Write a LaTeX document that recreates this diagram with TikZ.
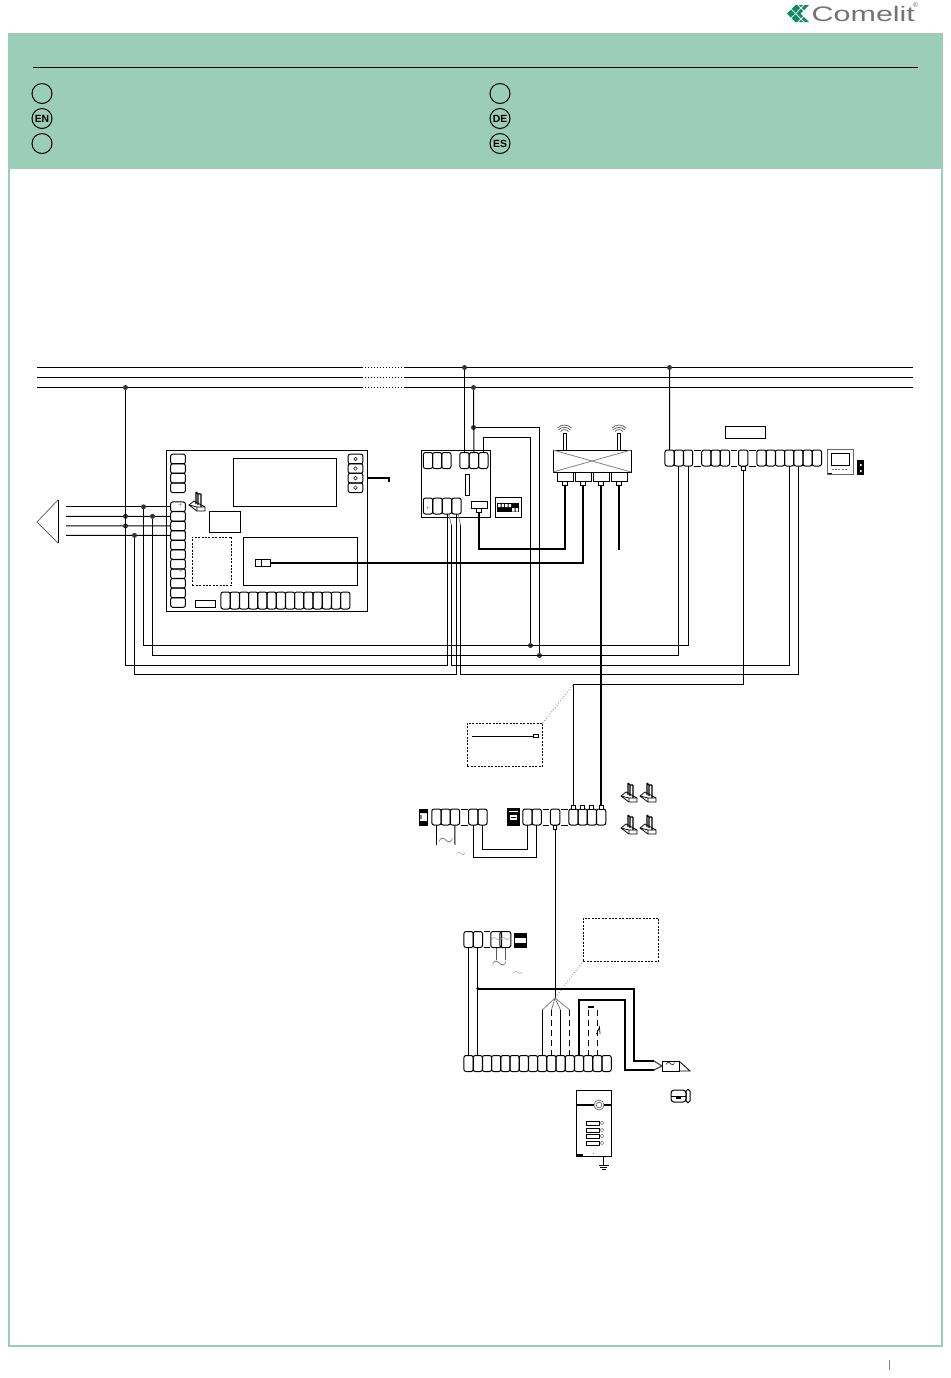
\documentclass[tikz,border=0pt]{standalone}
\usepackage{amsmath}
\usepackage{fontspec}
\setmainfont{Liberation Sans}
\usetikzlibrary{positioning}

\definecolor{bandgreen}{HTML}{9BCDB9}
\definecolor{logogreen}{HTML}{0A8F5C}

\tikzset{
  term/.style = {draw, rectangle, rounded corners = 1.1pt, inner sep = 0pt, outer sep = 0pt,
    minimum width = 4.7pt, minimum height = 8pt},
  termgap/.style = {rectangle, inner sep = 0pt, outer sep = 0pt, minimum width = 3.4pt, minimum height = 8pt,
    append after command = {(\tikzlastnode.north west) edge (\tikzlastnode.north east)
      (\tikzlastnode.south west) edge (\tikzlastnode.south east)}},
  vterm/.style = {draw, rectangle, rounded corners = 1.1pt, inner sep = 0pt, outer sep = 0pt,
    minimum width = 7.4pt, minimum height = 4.9pt},
  tildeterm/.style = {term, text = gray!70, font = \fontsize{5}{5}\selectfont},
  box/.style = {draw, rectangle, inner sep = 0pt, outer sep = 0pt},
  dashbox/.style = {box, dash pattern = on 1pt off 0.7pt},
  plug/.style = {draw, fill = white, rectangle, inner sep = 0pt, outer sep = 0pt, minimum size = 2.4pt},
  dot/.style = {circle, fill = black!80, inner sep = 0pt, outer sep = 0pt, minimum size = 2.5pt},
  hole/.style = {draw, circle, inner sep = 0pt, minimum size = 1.8pt, line width = 0.25pt},
  flag/.style = {draw, circle, inner sep = 0pt, minimum size = 10pt, font = \bfseries\fontsize{5.2}{5.2}\selectfont},
  tilde/.style = {text = gray, inner sep = 0pt, font = \fontsize{10}{10}\selectfont},
  smalltilde/.style = {text = gray!70, inner sep = 0pt, font = \fontsize{4}{4}\selectfont},
  plus/.style = {text = gray, inner sep = 0pt, font = \fontsize{3.5}{3.5}\selectfont},
  wire/.style = {line width = 0.5pt},
  thickwire/.style = {line width = 1pt},
  hint/.style = {gray, line width = 0.4pt, densely dotted},
  clamp/.pic = {
    \draw [line width = 0.4pt] (0,13) -- (5,9) -- (16,15) -- (16,19) -- (8,19) -- cycle;
    \draw [line width = 0.4pt] (0,13) -- (8,15) -- (16,15) (8,15) -- (8,19);
    \draw [line width = 0.6pt] (7,0) -- (7,12) (7,0) -- (9,2) -- (9,13) (12,2) -- (12,15) (9,2) -- (12,2);
  },
  antenna/.pic = {
    \draw [black!60, line width = 0.4pt] (-7,-13) .. controls (-3,-17) and (3,-17) .. (7,-13);
    \draw [black!60, line width = 0.4pt] (-6,-11) .. controls (-3,-14.5) and (3,-14.5) .. (6,-11);
    \draw [black!60, line width = 0.4pt] (-4,-9.5) .. controls (-2,-12) and (2,-12) .. (4,-9.5);
    \draw [line width = 0.4pt] (-1.5,-8) rectangle (1.5,9);
  },
}

\begin{document}
\begin{tikzpicture} [x = 0.5pt, y = -0.5pt, node distance = 4.78pt and 4.6pt, on grid, line width = 0.5pt]

\useasboundingbox (0,0) rectangle (950,1378);

% page
\fill [bandgreen] (8,33.5) rectangle (942,169);
\draw [bandgreen, line width = 0.9pt] (9,34) rectangle (942,1346);
\draw [line width = 0.5pt] (33,67.5) -- (918,67.5);
\draw [gray, line width = 0.4pt] (889.5,1360) -- (889.5,1370);

\node (f1) [flag] at (42,93.5) {};
\node (f2) [flag] at (42,118.5) {EN};
\node (f3) [flag] at (42,143.5) {};
\node (f4) [flag] at (500,93.5) {};
\node (f5) [flag] at (500,118.5) {DE};
\node (f6) [flag] at (500,143.5) {ES};

% logo
\fill [logogreen] (787,13.5) -- (795.5,5) -- (809,5) -- (800.5,13.5) -- (809,22) -- (795.5,22) -- cycle;
\draw [white, line width = 0.4pt] (791.3,9.2) -- (804,22) (791.3,17.8) -- (804,5) (798,5) -- (804.5,11.5) (798,22) -- (804.5,15.5);
\node (logo) [anchor = west, inner sep = 0pt, text = black!55, font = \fontsize{10.5}{10.5}\selectfont,
  xscale = 1.45, transform shape] at (811,13.5) {Comelit};
\node (reg) [text = black!55, inner sep = 0pt, font = \fontsize{3.5}{3.5}\selectfont] at (915.5,5) {®};

% bus
\coordinate (bus1a) at (37,367.5);
\coordinate (bus1b) at (362,367.5);
\coordinate (bus1c) at (405,367.5);
\coordinate (bus1d) at (913,367.5);
\coordinate (bus2a) at (37,377.5);
\coordinate (bus2b) at (362,377.5);
\coordinate (bus2c) at (405,377.5);
\coordinate (bus2d) at (913,377.5);
\coordinate (bus3a) at (37,387.5);
\coordinate (bus3b) at (362,387.5);
\coordinate (bus3c) at (405,387.5);
\coordinate (bus3d) at (913,387.5);
\path [wire]
  (bus1a) edge (bus1b)
  (bus1c) edge (bus1d)
  (bus2a) edge (bus2b)
  (bus2c) edge (bus2d)
  (bus3a) edge (bus3b)
  (bus3c) edge (bus3d);
\path [wire, densely dotted]
  (bus1b) edge (bus1c)
  (bus2b) edge (bus2c)
  (bus3b) edge (bus3c);
\node (j1) [dot] at (464.5,367.5) {};
\node (j2) [dot] at (669.5,367.5) {};
\node (j3) [dot] at (125.5,387.5) {};
\node (j4) [dot] at (473.5,387.5) {};
\node (j5) [dot] at (473.5,427.5) {};

% main board
\node (board) [box, minimum width = 100.5pt, minimum height = 80.5pt] at (266.5,530.5) {};
\node (lcd) [box, minimum width = 51.5pt, minimum height = 24pt] at (284.5,482) {};
\node (chip) [box, minimum width = 15.5pt, minimum height = 10.5pt] at (224.5,521.5) {};
\node (opt) [dashbox, minimum width = 19.7pt, minimum height = 24pt] at (212,561) {};
\node (mod) [box, minimum width = 57pt, minimum height = 24pt] at (300,561) {};
\node (fuse) [box, minimum width = 10pt, minimum height = 3.5pt] at (205,603.5) {};
\node (lan) [box, fill = white, minimum width = 7pt, minimum height = 3.5pt] at (263,563) {};
\node (lanb) [box, fill = white, minimum width = 3pt, minimum height = 3.5pt] at (258.5,563) {};
\pic at (189,492) {clamp};

\node (g0) [vterm] at (178,459) {};
\node (g1) [vterm, below = of g0] {};
\node (g2) [vterm, below = of g1] {};
\node (g3) [vterm, below = of g2] {};

\node (h0) [vterm] at (178,506.8) {};
\node (h1) [vterm, below = of h0] {};
\node (h2) [vterm, below = of h1] {};
\node (h3) [vterm, below = of h2] {};
\node (h4) [vterm, below = of h3] {};
\node (h5) [vterm, below = of h4] {};
\node (h6) [vterm, below = of h5] {};
\node (h7) [vterm, below = of h6] {};
\node (h8) [vterm, below = of h7] {};
\node (h9) [vterm, below = of h8] {};
\node (h10) [vterm, below = of h9] {};
\node (pl1) [plus] at (180.5,505.5) {+};
\node (pl2) [plus] at (181,571.5) {+};

\node (k0) [term, minimum height = 8.5pt] at (225.6,600.5) {};
\node (k1) [term, minimum height = 8.5pt, right = of k0] {};
\node (k2) [term, minimum height = 8.5pt, right = of k1] {};
\node (k3) [term, minimum height = 8.5pt, right = of k2] {};
\node (k4) [term, minimum height = 8.5pt, right = of k3] {};
\node (k5) [term, minimum height = 8.5pt, right = of k4] {};
\node (k6) [term, minimum height = 8.5pt, right = of k5] {};
\node (k7) [term, minimum height = 8.5pt, right = of k6] {};
\node (k8) [term, minimum height = 8.5pt, right = of k7] {};
\node (k9) [term, minimum height = 8.5pt, right = of k8] {};
\node (k10) [term, minimum height = 8.5pt, right = of k9] {};
\node (k11) [term, minimum height = 8.5pt, right = of k10] {};
\node (k12) [term, minimum height = 8.5pt, right = of k11] {};
\node (k13) [term, minimum height = 8.5pt, right = of k12] {};

\node (r0) [vterm] at (355.5,459) {};
\node (r1) [vterm, below = of r0] {};
\node (r2) [vterm, below = of r1] {};
\node (r3) [vterm, below = of r2] {};
\node (r0c) [hole] at (r0) {};
\node (r1c) [hole] at (r1) {};
\node (r2c) [hole] at (r2) {};
\node (r3c) [hole] at (r3) {};

\coordinate (earth) at (389,482);
\draw [thickwire] (board.east |- r2) -| (earth);

% speaker
\node (cone) [inner sep = 0pt] at (50,522) {};
\draw [gray!80!black, line width = 0.4pt] (58,500) -- (37,522) -- (58,543);
\draw [line width = 0.5pt] (58,500) -- (58,543);
\coordinate (spk0) at (66,506.8);
\coordinate (spk1) at (66,516.3);
\coordinate (spk2) at (66,525.9);
\coordinate (spk3) at (66,535.4);
\path [wire]
  (spk0) edge (h0.west)
  (spk1) edge (h1.west)
  (spk2) edge (h2.west)
  (spk3) edge (h3.west);
\node (j6) [dot] at (143.5,506.8) {};
\node (j7) [dot] at (125.5,516.3) {};
\node (j8) [dot] at (152.5,516.3) {};
\node (j9) [dot] at (125.5,525.9) {};
\node (j10) [dot] at (134.5,535.4) {};

% second board
\node (ctrl) [box, minimum width = 34.5pt, minimum height = 33.5pt] at (455.5,483.5) {};
\node (m0) [term] at (428,460.5) {};
\node (m1) [term, right = of m0] {};
\node (m2) [term, right = of m1] {};
\node (n0) [term] at (464.5,460.5) {};
\node (n1) [term, right = 4.7pt of n0] {};
\node (n2) [term, right = 4.7pt of n1] {};
\node (p0) [term] at (428,506) {};
\node (p1) [term, right = 4.75pt of p0] {};
\node (p2) [term, right = 4.75pt of p1] {};
\node (p3) [term, right = 4.75pt of p2] {};
\node (pl3) [plus] at (428,508) {+};
\node (slot) [box, minimum width = 2pt, minimum height = 10.5pt] at (467,484.5) {};
\node (sock) [box, minimum width = 8pt, minimum height = 3.5pt] at (479,504.5) {};
\node (sockp) [plug, below = 3pt of sock] {};

% dip switch
\node (dip) [box, minimum width = 13pt, minimum height = 10pt] at (508,507) {};
\fill [black] (497,503) rectangle (519,512);
\fill [white] (498,504) rectangle (500.5,507) (501.5,504) rectangle (504,507) (505,504) rectangle (507.5,507) (508.5,504) rectangle (511,507);
\fill [white] (512,508) rectangle (514.5,511.5) (515.5,508) rectangle (518,511.5);

% router
\node (rt) [box, minimum width = 39pt, minimum height = 11pt] at (592,461) {};
\draw [gray, line width = 0.4pt] (rt.north west) -- (rt.south east);
\draw [gray, line width = 0.4pt] (rt.south west) -- (rt.north east);
\pic at (564.5,441) {antenna};
\pic at (619,441) {antenna};
\node (rs0) [box, minimum width = 8pt, minimum height = 4.5pt] at (565,476.5) {};
\node (rs1) [box, minimum width = 8pt, minimum height = 4.5pt] at (583,476.5) {};
\node (rs2) [box, minimum width = 8pt, minimum height = 4.5pt] at (601,476.5) {};
\node (rs3) [box, minimum width = 8pt, minimum height = 4.5pt] at (619,476.5) {};
\node (rp0) [plug] at (565,483.5) {};
\node (rp1) [plug] at (583,483.5) {};
\node (rp2) [plug] at (601,483.5) {};
\node (rp3) [plug] at (619,483.5) {};

% top right strip
\node (tag) [box, minimum width = 20pt, minimum height = 6pt] at (745,432) {};
\node (a0) [term] at (669.6,458) {};
\node (a1) [term, right = of a0] {};
\node (a2) [term, right = of a1] {};
\node (a3) [termgap, right = of a2] {};
\node (a4) [term, right = of a3] {};
\node (a5) [term, right = of a4] {};
\node (a6) [term, right = of a5] {};
\node (a7) [termgap, right = of a6] {};
\node (a8) [term, right = of a7] {};
\node (a9) [termgap, right = of a8] {};
\node (a10) [term, right = of a9] {};
\node (a11) [term, right = of a10] {};
\node (a12) [term, right = of a11] {};
\node (a13) [term, right = of a12] {};
\node (a14) [term, right = of a13] {};
\node (a15) [term, right = of a14] {};
\node (a16) [term, right = of a15] {};
\node (a8p) [plug, below = 5.2pt of a8, minimum size = 2pt] {};

% monitor
\node (mon) [box, gray!80!black, minimum width = 13pt, minimum height = 12.5pt] at (840,461.5) {};
\node (scr) [box, minimum width = 9pt, minimum height = 6pt] at (840,459) {};
\draw [gray, line width = 0.8pt, dash pattern = on 1pt off 0.6pt] (832,469.5) -- (848,469.5);
\fill [black] (828,472.5) rectangle (832,474);
\fill [black] (857,460) rectangle (864,475);
\fill [white] (860,464) rectangle (861.5,466) (860,470) rectangle (861.5,472);

% long wires from the top
\coordinate (c1) at (125.5,665.5);
\coordinate (c2) at (143.5,645.5);
\coordinate (c3) at (152.5,655.5);
\coordinate (c4) at (134.5,674.5);
\node (j11) [dot] at (530.5,645.5) {};
\node (j12) [dot] at (539.5,655.5) {};
\coordinate (t1) at (451.5,525);
\coordinate (t2) at (460.5,525);
\coordinate (t3) at (574,684.5);

\draw [wire] (j1) -- (j1 |- n0.north);
\draw [wire] (j3) -- (c1) -- (c1 -| p2) -- (p2.south);
\draw [wire] (j4) -- (n1.north);
\draw [wire] (j2) -- (a0.north);
\draw [wire] (j6) -- (c2) -- (c2 -| a2) -- (a2.south);
\draw [wire] (j8) -- (c3) -- (c3 -| a1) -- (a1.south);
\draw [wire] (j10) -- (c4) -- (c4 -| p3) -- (p3.south);
\draw [wire] (j5) -| (j12);
\draw [wire] (n2.north) |- (483.5,437.5) -| (j11);
\draw [gray, line width = 0.4pt] (448.5,514) -- (t1);
\draw [gray, line width = 0.4pt] (458,514) -- (t2);
\draw [wire] (t1) |- (a13 |- c1) -- (a13.south);
\draw [wire] (t2) |- (a14 |- c4) -- (a14.south);

\draw [thickwire] (sockp.south) |- (565,549) -- (rp0.south);
\draw [thickwire] (lan.east) -| (rp1.south);
\draw [thickwire] (rp3.south) -- (619,549.5);

% details box and middle strip
\node (note1) [dashbox, minimum width = 37.7pt, minimum height = 21.5pt] at (505,744.5) {};
\coordinate (note1a) at (472,736);
\node (note1p) [plug, minimum width = 2.5pt, minimum height = 1.5pt] at (535.5,736) {};
\draw [wire] (note1a) -- (note1p.west);

\node (din1) [box, minimum width = 4pt, minimum height = 8pt] at (423,817) {};
\fill [black] (419,809) rectangle (427,813) (419,821) rectangle (427,825);
\fill [gray] (420,815) rectangle (422,819);
\node (b0) [term] at (436.5,817) {};
\node (b1) [term, right = of b0] {};
\node (b2) [term, right = of b1] {};
\node (b3) [termgap, right = of b2] {};
\node (b4) [term, right = of b3] {};
\node (b5) [term, right = of b4] {};
\coordinate (b0e) at (436.5,844.5);
\coordinate (b2e) at (455,844.5);
\node (mains) [tilde] at (446,842) {$\sim$};
\node (mainsb) [smalltilde] at (461,855) {$\sim$};
\draw [wire] (b0.south) -- (b0e);
\draw [wire] (b2.south) -- (b2e);

\node (din2) [box, minimum width = 6pt, minimum height = 8.5pt] at (513,816.5) {};
\fill [black] (507,808) rectangle (519,825);
\fill [white] (508.5,810.5) rectangle (517.5,812);
\fill [white] (509.5,814.5) rectangle (516.5,820);
\fill [black] (510.5,816.5) rectangle (515.5,818);
\node (d0) [term] at (527.5,817) {};
\node (d1) [term, right = of d0] {};
\node (d2) [termgap, right = of d1] {};
\node (d3) [term, right = of d2] {};
\node (d4) [termgap, right = of d3] {};
\node (d5) [term, right = of d4] {};
\node (d6) [term, right = of d5] {};
\node (d7) [term, right = of d6] {};
\node (d8) [term, right = of d7] {};
\node (d3p) [plug, below = 5.2pt of d3, minimum width = 1.6pt, minimum height = 2.4pt] {};
\node (d5p) [plug, above = 5pt of d5, fill = white, minimum size = 2pt] {};
\node (d6p) [plug, above = 5pt of d6, minimum size = 2pt] {};
\node (d7p) [plug, above = 5pt of d7, minimum size = 2pt] {};
\node (d8p) [plug, above = 5pt of d8, minimum size = 2pt] {};

\draw [wire] (a8p.south) |- (d5p |- t3) -- (d5p.north);
\draw [hint] (note1.north east) -- (d5p |- t3);
\draw [line width = 1.3pt] (d8p.north) -- (d8p |- rp2.south);
\draw [wire] (b4.south) |- (d1 |- 0,857) -- (d1.south);
\draw [wire] (b5.south) |- (d0 |- 0,849) -- (d0.south);

\pic at (621,783) {clamp};
\pic at (640,783) {clamp};
\pic at (621,815) {clamp};
\pic at (640,815) {clamp};

% lower strips
\node (e0) [term] at (468.6,939.5) {};
\node (e1) [term, right = of e0] {};
\node (e2) [termgap, right = of e1] {};
\node (e3) [tildeterm, right = of e2] {$\sim$};
\node (e4) [tildeterm, right = of e3] {$\sim$};
\node (din3) [box, minimum width = 6pt, minimum height = 7pt] at (520,940) {};
\fill [black] (514,933) rectangle (526,938);
\fill [black] (514,943) rectangle (526,947);
\coordinate (e3e) at (e3 |- 0,960);
\coordinate (e4e) at (e4 |- 0,960);
\draw [gray!70!black, wire] (e3.south) -- (e3e);
\draw [gray!70!black, wire] (e4.south) -- (e4e);
\node (mains2) [tilde] at (499.5,965) {$\sim$};
\node (mains2b) [smalltilde] at (518,974) {$\sim$};

\node (note2) [dashbox, minimum width = 37.7pt, minimum height = 21.5pt] at (621,939.5) {};

\node (s0) [term] at (468.6,1063.5) {};
\node (s1) [term, right = of s0] {};
\node (s2) [term, right = of s1] {};
\node (s3) [term, right = of s2] {};
\node (s4) [term, right = of s3] {};
\node (s5) [term, right = of s4] {};
\node (s6) [term, right = of s5] {};
\node (s7) [term, right = of s6] {};
\node (s8) [term, right = of s7] {};
\node (s9) [term, right = of s8] {};
\node (s10) [term, right = of s9] {};
\node (s11) [term, right = of s10] {};
\node (s12) [term, right = of s11] {};
\node (s13) [term, right = of s12] {};
\node (s14) [term, right = of s13] {};
\node (s15) [term, right = of s14] {};

\node (j13) [dot, minimum size = 1.6pt] at (477.8,988.5) {};
\coordinate (fan) at (555,998);
\draw [wire] (e0.south) -- (s0.north);
\draw [wire] (e1.south) -- (s1.north);
\draw [wire] (d3p.south) -- (d3p |- fan);
\draw [hint] (note2.south west) -- (fan);
\draw [gray, line width = 0.4pt] (fan) -- (s8 |- 0,1010);
\draw [gray, line width = 0.4pt] (fan) -- (s9 |- 0,1010);
\draw [gray, line width = 0.4pt] (fan) -- (s10 |- 0,1010);
\draw [gray, line width = 0.4pt] (fan) -- (s11 |- 0,1010);
\draw [wire] (s8 |- 0,1010) -- (s8.north);
\draw [wire, densely dashed] (s9 |- 0,1010) -- (s9.north);
\draw [wire] (s10 |- 0,1010) -- (s10.north);
\draw [wire, densely dashed] (s11 |- 0,1010) -- (s11.north);

\draw [wire, densely dashed] (s13.north) -- (s13 |- 0,1007);
\draw [wire, densely dashed] (s14.north) -- (s14 |- 0,1007);
\draw [thickwire, densely dashed] (s13 |- 0,1007) -- (s14 |- 0,1007);
\draw [line width = 0.35pt] (596.5,1034) -- (599.5,1027) -- (600,1034);

% speaker unit
\node (horn) [box, minimum width = 8.5pt, minimum height = 5pt] at (670.5,1066) {};
\node (hornt) [text = black, inner sep = 0pt, font = \fontsize{5.5}{5.5}\selectfont] at (670.5,1065) {$\sim$};
\draw [line width = 0.4pt] (horn.north east) -- (690,1071) -- (horn.south east);
\draw [thickwire] (j13.center) -| (634,1061) -- (654,1061);
\draw [black!70, line width = 0.6pt] (654,1061) -- (horn.west);
\draw [thickwire] (s12.north) |- (625,999.5) |- (654,1070);
\draw [black!70, line width = 0.6pt] (654,1070) -- (horn.west);

\node (hand) [box, rounded corners = 1.5pt, minimum width = 7.5pt, minimum height = 6pt] at (678.5,1096) {};
\draw [line width = 0.4pt] (hand.west) -- (hand.east);
\fill [black] (676,1096) rectangle (681,1099);
\node (handb) [box, rounded corners = 0.8pt, minimum width = 2pt, minimum height = 6.5pt] at (688,1096) {};

% door panel
\node (panel) [box, minimum width = 17.5pt, minimum height = 33pt] at (593.5,1123) {};
\node (lens) [draw, gray, circle, fill = white, inner sep = 0pt, minimum size = 5pt, line width = 0.4pt] at (599,1105) {};
\node (lensb) [draw, gray, circle, inner sep = 0pt, minimum size = 2.8pt, line width = 0.4pt] at (lens) {};
\draw [thickwire] (panel.west |- lens) -- (lens.west);
\draw [thickwire] (lens.east) -- (panel.east |- lens);
\node (b1r) [box, minimum width = 6.5pt, minimum height = 2pt] at (592.5,1123) {};
\node (b2r) [box, minimum width = 6.5pt, minimum height = 2pt] at (592.5,1130) {};
\node (b3r) [box, minimum width = 6.5pt, minimum height = 2pt] at (592.5,1136) {};
\node (b4r) [box, minimum width = 6.5pt, minimum height = 2pt] at (592.5,1143) {};
\node (b1c) [hole, gray] at (602,1123) {};
\node (b2c) [hole, gray] at (602,1130) {};
\node (b3c) [hole, gray] at (602,1136) {};
\node (b4c) [hole, gray] at (602,1143) {};
\fill [black] (576,1154) rectangle (583,1156.5);
\fill [gray] (592.5,1153) rectangle (593.5,1154);
\coordinate (gnd) at (603.5,1165);
\draw [wire] (gnd |- panel.south) -- (gnd);
\draw [wire] (598.5,1165) -- (608.5,1165);
\draw [wire] (600,1167) -- (607,1167);
\draw [wire] (601.5,1169) -- (605.5,1169);

\end{tikzpicture}
\end{document}
